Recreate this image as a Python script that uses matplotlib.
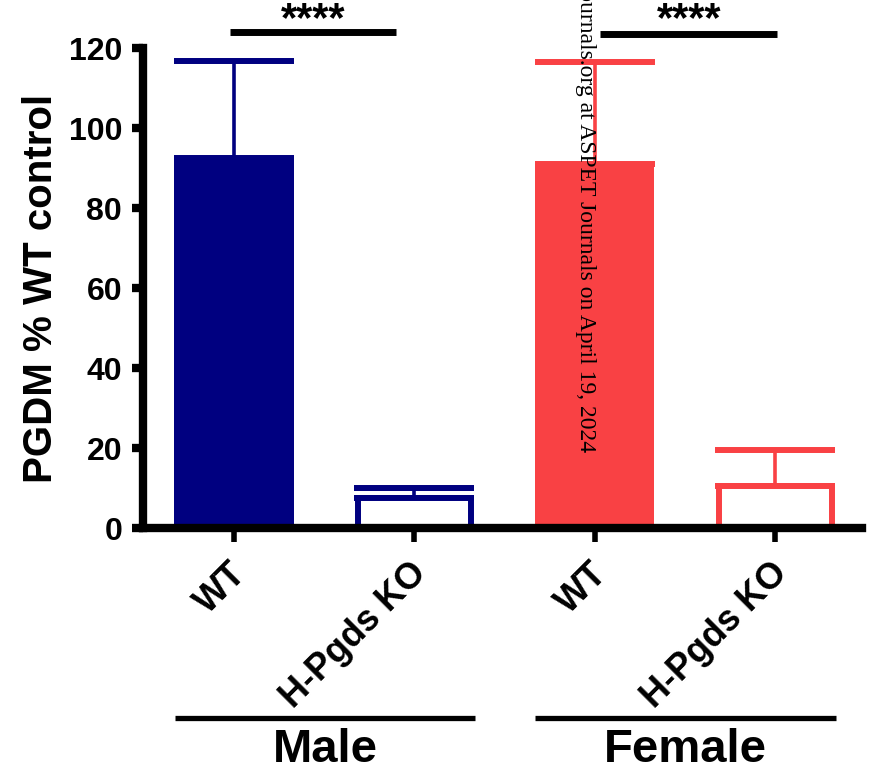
import numpy as np
import matplotlib.pyplot as plt

plt.rcParams['font.family'] = ['Liberation Sans', 'DejaVu Sans']
plt.rcParams['font.weight'] = 'bold'

# data
labels = ['WT', 'H-Pgds KO', 'WT', 'H-Pgds KO']
groups = ['Male', 'Female']
means = [92.5, 7.5, 91.0, 10.5]
errs = [24.25, 2.6, 25.5, 9.0]
filled = [True, False, True, False]
navy = '#000080'
red = '#F94144'
colors = [navy, navy, red, red]

fig = plt.figure(figsize=(8.71, 7.73), dpi=100)
ax = fig.add_axes([143/871, 1-528/773, (862-143)/871, 480/773])

x = np.arange(len(means))

# error bars (upper only)
for i in range(len(means)):
    ax.errorbar(x[i], means[i], yerr=[[0], [errs[i]]], color=colors[i],
                elinewidth=2.6, capsize=43, capthick=4.3, zorder=1)

for i in range(len(means)):
    if filled[i]:
        ax.bar(x[i], means[i], width=0.66, color=colors[i], zorder=2)
    else:
        ax.bar(x[i], means[i], width=0.625, facecolor='white',
               edgecolor=colors[i], linewidth=4.3, zorder=2)

ax.set_xlim(-0.504, 3.48)
ax.set_ylim(0, 120)
ax.set_yticks([0, 20, 40, 60, 80, 100, 120])
ax.set_xticks(x)
ax.set_xticklabels([])
ax.tick_params(axis='y', labelsize=23, width=6, length=8, pad=7)
ax.tick_params(axis='x', width=4, length=10)
ax.set_ylabel('PGDM % WT control', fontsize=29, fontweight='bold', labelpad=6)

trans = ax.get_xaxis_transform()
# rotated category labels
for xi, lab in zip(x, labels):
    ax.annotate(lab, xy=(xi, 0), xycoords=trans, xytext=(-4, -20),
                textcoords='offset points', rotation=45, ha='right',
                va='top', rotation_mode='anchor', fontsize=26,
                annotation_clip=False)

for s in ['top', 'right']:
    ax.spines[s].set_visible(False)
ax.spines['left'].set_linewidth(6)
ax.spines['bottom'].set_linewidth(6)

# significance bars
sig = [(-0.02, 0.9, 124), (2.03, 3.01, 123.5)]
for x0, x1, yy in sig:
    ax.plot([x0, x1], [yy, yy], color='black', lw=5, clip_on=False,
            solid_capstyle='butt')
    ax.text((x0 + x1) / 2, 124.3, '****', ha='center', va='baseline',
            fontsize=30, clip_on=False)

# group lines and labels
group_spans = [(-0.327, 1.335), (1.668, 3.335)]
for (x0, x1), g in zip(group_spans, groups):
    ax.plot([x0, x1], [-0.396, -0.396], color='black', lw=3.8,
            transform=trans, clip_on=False, solid_capstyle='butt')
    ax.text((x0 + x1) / 2, -0.508, g, transform=trans, ha='center',
            va='bottom', fontsize=34)

# watermark
fig.text(585/871, 1-452/773,
         'Downloaded from jpet.aspetjournals.org at ASPET Journals on April 19, 2024',
         rotation=270, ha='center', va='bottom', family='Liberation Serif',
         fontweight='normal', fontsize=17)

fig.savefig('out.png', dpi=100)
